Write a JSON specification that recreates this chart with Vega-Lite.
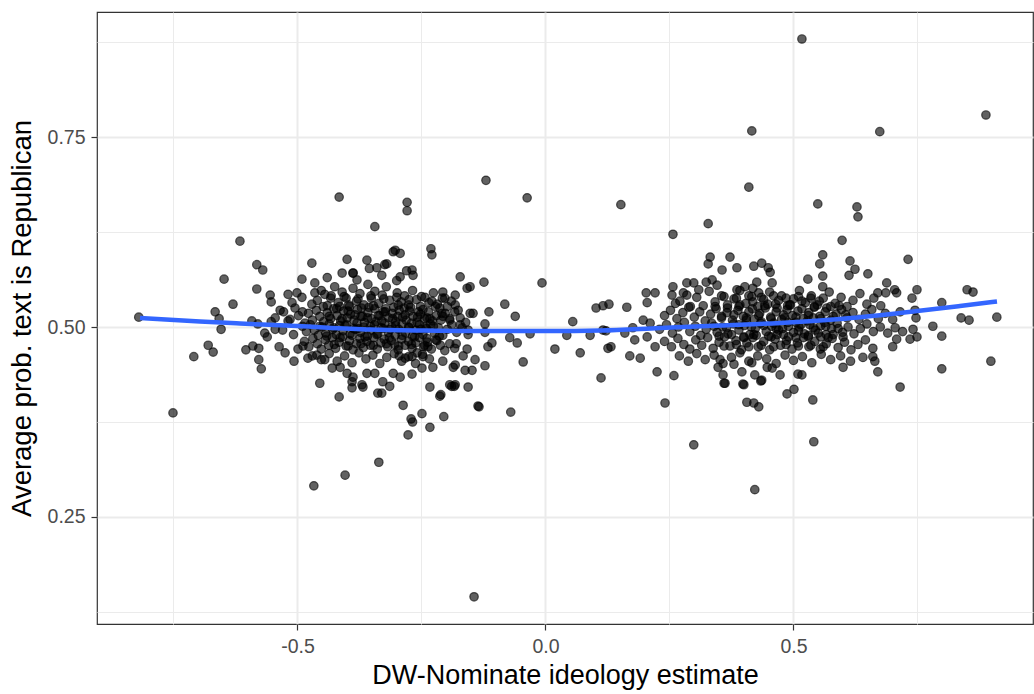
{
"$schema": "https://vega.github.io/schema/vega-lite/v6.json",
"width": 936,
"height": 612,
"autosize": {"type": "none"},
"padding": {"left": 97, "top": 12, "right": 1, "bottom": 70},
"background": "white",
"config": {"view": {"stroke": "#333333", "strokeWidth": 1.2}, "font": "Liberation Sans"},
"datasets": {
"fit": [
{"x":-0.8175,"y":0.5118},{"x":-0.6966,"y":0.5072},{"x":-0.6159,"y":0.5046},{"x":-0.501,"y":0.5013},{"x":-0.3538,"y":0.4967},{"x":-0.253,"y":0.4954},{"x":-0.1522,"y":0.4947},{"x":0.0091,"y":0.4947},{"x":0.1099,"y":0.4954},{"x":0.2308,"y":0.4987},{"x":0.3518,"y":0.502},{"x":0.4728,"y":0.5053},{"x":0.5938,"y":0.5105},{"x":0.7147,"y":0.5184},{"x":0.8357,"y":0.5276},{"x":0.9103,"y":0.5336}
],
"pts": [
{"x":-0.82,"y":0.513},{"x":-0.648,"y":0.563},{"x":-0.616,"y":0.613},{"x":-0.63,"y":0.53},{"x":-0.666,"y":0.52},{"x":-0.658,"y":0.511},{"x":-0.654,"y":0.497},{"x":-0.68,"y":0.476},{"x":-0.67,"y":0.467},{"x":-0.709,"y":0.461},{"x":-0.751,"y":0.387},
{"x":-0.582,"y":0.582},{"x":-0.57,"y":0.575},{"x":-0.471,"y":0.584},{"x":-0.4,"y":0.589},{"x":-0.388,"y":0.571},{"x":-0.491,"y":0.563},{"x":-0.582,"y":0.55},{"x":-0.555,"y":0.542},{"x":-0.592,"y":0.508},{"x":-0.58,"y":0.504},{"x":-0.553,"y":0.533},{"x":-0.553,"y":0.507},{"x":-0.535,"y":0.522},{"x":-0.519,"y":0.508},{"x":-0.519,"y":0.543},{"x":-0.501,"y":0.545},{"x":-0.511,"y":0.532},{"x":-0.465,"y":0.558},{"x":-0.465,"y":0.545},{"x":-0.445,"y":0.543},{"x":-0.491,"y":0.539},{"x":-0.471,"y":0.53},{"x":-0.561,"y":0.487},{"x":-0.566,"y":0.492},{"x":-0.604,"y":0.47},{"x":-0.59,"y":0.475},{"x":-0.578,"y":0.472},{"x":-0.537,"y":0.474},{"x":-0.525,"y":0.466},{"x":-0.578,"y":0.457},{"x":-0.573,"y":0.445},{"x":-0.507,"y":0.455},{"x":-0.499,"y":0.471},{"x":-0.489,"y":0.475},{"x":-0.479,"y":0.459},{"x":-0.461,"y":0.463},{"x":-0.445,"y":0.457},
{"x":-0.455,"y":0.426},{"x":-0.43,"y":0.446},{"x":-0.414,"y":0.447},{"x":-0.4,"y":0.439},{"x":-0.416,"y":0.408},{"x":-0.388,"y":0.434},{"x":-0.39,"y":0.428},{"x":-0.36,"y":0.439},{"x":-0.37,"y":0.424},{"x":-0.368,"y":0.421},{"x":-0.338,"y":0.413},{"x":-0.39,"y":0.42},{"x":-0.211,"y":0.411},{"x":-0.189,"y":0.422},{"x":-0.184,"y":0.422},{"x":-0.134,"y":0.395},{"x":-0.07,"y":0.388},{"x":-0.271,"y":0.379},{"x":-0.268,"y":0.375},{"x":-0.249,"y":0.386},{"x":-0.205,"y":0.382},{"x":-0.233,"y":0.368},{"x":-0.277,"y":0.358},{"x":-0.336,"y":0.322},{"x":-0.404,"y":0.305},{"x":-0.467,"y":0.291},{"x":-0.144,"y":0.145},
{"x":-0.229,"y":0.595},{"x":-0.172,"y":0.566},{"x":-0.124,"y":0.559},{"x":-0.158,"y":0.551},{"x":-0.152,"y":0.553},{"x":-0.207,"y":0.546},{"x":-0.182,"y":0.542},{"x":-0.229,"y":0.534},{"x":-0.203,"y":0.538},{"x":-0.082,"y":0.53},{"x":-0.061,"y":0.514},{"x":-0.114,"y":0.52},{"x":-0.152,"y":0.518},{"x":-0.146,"y":0.518},{"x":-0.182,"y":0.529},{"x":-0.176,"y":0.522},{"x":-0.213,"y":0.525},{"x":-0.209,"y":0.518},{"x":-0.193,"y":0.509},{"x":-0.122,"y":0.504},{"x":-0.122,"y":0.493},{"x":-0.239,"y":0.512},{"x":-0.243,"y":0.5},{"x":-0.172,"y":0.503},{"x":-0.156,"y":0.496},{"x":-0.031,"y":0.491},{"x":-0.072,"y":0.486},{"x":-0.057,"y":0.479},{"x":-0.108,"y":0.479},{"x":-0.116,"y":0.474},{"x":-0.18,"y":0.478},{"x":-0.219,"y":0.482},{"x":-0.158,"y":0.471},{"x":-0.166,"y":0.462},{"x":-0.237,"y":0.474},{"x":-0.247,"y":0.461},{"x":-0.295,"y":0.462},{"x":-0.283,"y":0.459},{"x":-0.259,"y":0.466},{"x":-0.269,"y":0.461},{"x":-0.142,"y":0.457},{"x":-0.122,"y":0.449},{"x":-0.045,"y":0.454},{"x":-0.207,"y":0.455},{"x":-0.182,"y":0.45},{"x":-0.186,"y":0.447},{"x":-0.162,"y":0.443},{"x":-0.148,"y":0.443},{"x":-0.227,"y":0.447},{"x":-0.249,"y":0.446},{"x":-0.269,"y":0.438},{"x":-0.344,"y":0.439},{"x":-0.307,"y":0.439},{"x":-0.293,"y":0.434},{"x":-0.328,"y":0.428},{"x":-0.33,"y":0.413},{"x":-0.314,"y":0.422},{"x":-0.233,"y":0.421},{"x":-0.193,"y":0.424},{"x":-0.182,"y":0.424},{"x":-0.156,"y":0.421},{"x":-0.213,"y":0.409},{"x":-0.287,"y":0.397},{"x":-0.136,"y":0.396},{"x":-0.307,"y":0.599},{"x":-0.293,"y":0.597},{"x":-0.34,"y":0.578},{"x":-0.324,"y":0.582},{"x":-0.269,"y":0.575},{"x":-0.267,"y":0.568},{"x":-0.293,"y":0.566},
{"x":-0.12,"y":0.693},{"x":-0.416,"y":0.671},{"x":-0.279,"y":0.664},{"x":-0.279,"y":0.653},{"x":-0.344,"y":0.632},{"x":-0.303,"y":0.601},{"x":-0.231,"y":0.603},{"x":-0.037,"y":0.67},{"x":-0.007,"y":0.558},{"x":-0.32,"y":0.583},{"x":-0.388,"y":0.571},
{"x":-0.545,"y":0.512},{"x":-0.528,"y":0.52},{"x":-0.515,"y":0.51},{"x":-0.505,"y":0.525},{"x":-0.498,"y":0.515},{"x":-0.508,"y":0.49},{"x":-0.53,"y":0.496},{"x":-0.545,"y":0.497},{"x":-0.49,"y":0.52},{"x":-0.485,"y":0.505},
{"x":-0.46,"y":0.535},{"x":-0.452,"y":0.548},{"x":-0.44,"y":0.528},{"x":-0.432,"y":0.541},{"x":-0.425,"y":0.553},{"x":-0.418,"y":0.532},{"x":-0.41,"y":0.546},{"x":-0.402,"y":0.538},{"x":-0.395,"y":0.527},{"x":-0.388,"y":0.551},{"x":-0.381,"y":0.534},{"x":-0.374,"y":0.544},{"x":-0.366,"y":0.529},{"x":-0.358,"y":0.556},{"x":-0.351,"y":0.538},{"x":-0.344,"y":0.547},{"x":-0.336,"y":0.531},{"x":-0.329,"y":0.542},{"x":-0.321,"y":0.553},{"x":-0.314,"y":0.535},{"x":-0.306,"y":0.526},{"x":-0.299,"y":0.545},{"x":-0.291,"y":0.533},{"x":-0.284,"y":0.541},{"x":-0.276,"y":0.529},{"x":-0.268,"y":0.548},{"x":-0.26,"y":0.536},{"x":-0.252,"y":0.527},{"x":-0.243,"y":0.539},{"x":-0.235,"y":0.532},{"x":-0.226,"y":0.545},{"x":-0.218,"y":0.53},{"x":-0.208,"y":0.538},{"x":-0.198,"y":0.527},{"x":-0.19,"y":0.534},
{"x":-0.478,"y":0.518},{"x":-0.47,"y":0.509},{"x":-0.462,"y":0.522},{"x":-0.455,"y":0.514},{"x":-0.447,"y":0.507},{"x":-0.44,"y":0.519},{"x":-0.433,"y":0.511},{"x":-0.427,"y":0.524},{"x":-0.42,"y":0.515},{"x":-0.413,"y":0.508},{"x":-0.407,"y":0.521},{"x":-0.4,"y":0.512},{"x":-0.393,"y":0.517},{"x":-0.386,"y":0.509},{"x":-0.379,"y":0.523},{"x":-0.372,"y":0.514},{"x":-0.365,"y":0.506},{"x":-0.358,"y":0.519},{"x":-0.351,"y":0.511},{"x":-0.344,"y":0.524},{"x":-0.337,"y":0.515},{"x":-0.33,"y":0.508},{"x":-0.323,"y":0.52},{"x":-0.316,"y":0.512},{"x":-0.309,"y":0.518},{"x":-0.302,"y":0.507},{"x":-0.295,"y":0.522},{"x":-0.288,"y":0.513},{"x":-0.281,"y":0.509},{"x":-0.274,"y":0.521},{"x":-0.267,"y":0.514},{"x":-0.259,"y":0.506},{"x":-0.252,"y":0.517},{"x":-0.244,"y":0.511},{"x":-0.236,"y":0.52},{"x":-0.228,"y":0.508},{"x":-0.22,"y":0.515},{"x":-0.211,"y":0.509},{"x":-0.202,"y":0.518},{"x":-0.193,"y":0.511},{"x":-0.183,"y":0.52},{"x":-0.172,"y":0.512},{"x":-0.161,"y":0.506},
{"x":-0.49,"y":0.501},{"x":-0.482,"y":0.494},{"x":-0.474,"y":0.503},{"x":-0.466,"y":0.496},{"x":-0.458,"y":0.489},{"x":-0.45,"y":0.5},{"x":-0.443,"y":0.492},{"x":-0.436,"y":0.504},{"x":-0.429,"y":0.497},{"x":-0.422,"y":0.49},{"x":-0.415,"y":0.502},{"x":-0.408,"y":0.495},{"x":-0.401,"y":0.503},{"x":-0.394,"y":0.491},{"x":-0.387,"y":0.498},{"x":-0.38,"y":0.505},{"x":-0.373,"y":0.493},{"x":-0.366,"y":0.5},{"x":-0.359,"y":0.488},{"x":-0.352,"y":0.496},{"x":-0.345,"y":0.503},{"x":-0.338,"y":0.491},{"x":-0.331,"y":0.499},{"x":-0.324,"y":0.505},{"x":-0.317,"y":0.493},{"x":-0.31,"y":0.5},{"x":-0.303,"y":0.489},{"x":-0.296,"y":0.497},{"x":-0.289,"y":0.504},{"x":-0.282,"y":0.492},{"x":-0.275,"y":0.499},{"x":-0.268,"y":0.488},{"x":-0.261,"y":0.496},{"x":-0.254,"y":0.503},{"x":-0.247,"y":0.49},{"x":-0.24,"y":0.498},{"x":-0.232,"y":0.504},{"x":-0.224,"y":0.492},{"x":-0.216,"y":0.499},{"x":-0.207,"y":0.489},{"x":-0.198,"y":0.497},{"x":-0.189,"y":0.503},{"x":-0.179,"y":0.493},{"x":-0.168,"y":0.499},{"x":-0.156,"y":0.49},
{"x":-0.486,"y":0.481},{"x":-0.477,"y":0.474},{"x":-0.469,"y":0.485},{"x":-0.46,"y":0.478},{"x":-0.452,"y":0.471},{"x":-0.444,"y":0.483},{"x":-0.437,"y":0.476},{"x":-0.43,"y":0.486},{"x":-0.423,"y":0.472},{"x":-0.416,"y":0.48},{"x":-0.409,"y":0.487},{"x":-0.402,"y":0.475},{"x":-0.395,"y":0.482},{"x":-0.388,"y":0.47},{"x":-0.381,"y":0.478},{"x":-0.374,"y":0.485},{"x":-0.367,"y":0.473},{"x":-0.36,"y":0.481},{"x":-0.353,"y":0.476},{"x":-0.346,"y":0.486},{"x":-0.339,"y":0.471},{"x":-0.332,"y":0.479},{"x":-0.325,"y":0.484},{"x":-0.318,"y":0.474},{"x":-0.311,"y":0.482},{"x":-0.304,"y":0.477},{"x":-0.297,"y":0.47},{"x":-0.29,"y":0.484},{"x":-0.283,"y":0.476},{"x":-0.276,"y":0.481},{"x":-0.269,"y":0.472},{"x":-0.262,"y":0.479},{"x":-0.254,"y":0.486},{"x":-0.246,"y":0.474},{"x":-0.238,"y":0.48},{"x":-0.23,"y":0.471},{"x":-0.221,"y":0.483},{"x":-0.212,"y":0.476},{"x":-0.203,"y":0.469},{"x":-0.193,"y":0.478},{"x":-0.183,"y":0.472},
{"x":-0.47,"y":0.462},{"x":-0.452,"y":0.457},{"x":-0.436,"y":0.465},{"x":-0.42,"y":0.455},{"x":-0.405,"y":0.462},{"x":-0.39,"y":0.453},{"x":-0.376,"y":0.466},{"x":-0.362,"y":0.458},{"x":-0.348,"y":0.463},{"x":-0.334,"y":0.452},{"x":-0.32,"y":0.46},{"x":-0.305,"y":0.465},{"x":-0.29,"y":0.455},{"x":-0.276,"y":0.461},{"x":-0.262,"y":0.452},{"x":-0.248,"y":0.464},{"x":-0.234,"y":0.458},
{"x":-0.44,"y":0.565},{"x":-0.41,"y":0.571},{"x":-0.38,"y":0.562},{"x":-0.355,"y":0.577},{"x":-0.33,"y":0.568},{"x":-0.3,"y":0.561},{"x":-0.28,"y":0.574},{"x":-0.36,"y":0.588},
{"x":-0.415,"y":0.527},{"x":-0.398,"y":0.521},{"x":-0.383,"y":0.497},{"x":-0.369,"y":0.514},{"x":-0.356,"y":0.526},{"x":-0.342,"y":0.507},{"x":-0.327,"y":0.52},{"x":-0.313,"y":0.497},{"x":-0.298,"y":0.514},{"x":-0.285,"y":0.525},{"x":-0.27,"y":0.505},{"x":-0.256,"y":0.52},
{"x":-0.448,"y":0.527},{"x":-0.421,"y":0.524},{"x":-0.397,"y":0.529},{"x":-0.371,"y":0.525},{"x":-0.347,"y":0.528},{"x":-0.322,"y":0.524},{"x":-0.297,"y":0.529},{"x":-0.272,"y":0.526},{"x":-0.247,"y":0.523},{"x":-0.222,"y":0.527},
{"x":-0.436,"y":0.514},{"x":-0.41,"y":0.511},{"x":-0.384,"y":0.516},{"x":-0.359,"y":0.512},{"x":-0.334,"y":0.515},{"x":-0.308,"y":0.511},{"x":-0.283,"y":0.516},{"x":-0.258,"y":0.513},{"x":-0.233,"y":0.511},{"x":-0.207,"y":0.514},
{"x":-0.455,"y":0.501},{"x":-0.427,"y":0.499},{"x":-0.404,"y":0.502},{"x":-0.378,"y":0.498},{"x":-0.353,"y":0.501},{"x":-0.327,"y":0.498},{"x":-0.302,"y":0.502},{"x":-0.276,"y":0.5},{"x":-0.251,"y":0.497},{"x":-0.226,"y":0.501},
{"x":-0.441,"y":0.488},{"x":-0.414,"y":0.486},{"x":-0.39,"y":0.489},{"x":-0.364,"y":0.487},{"x":-0.34,"y":0.49},{"x":-0.315,"y":0.486},{"x":-0.289,"y":0.489},{"x":-0.264,"y":0.487},{"x":-0.239,"y":0.485},{"x":-0.214,"y":0.488},
{"x":-0.426,"y":0.477},{"x":-0.398,"y":0.475},{"x":-0.372,"y":0.478},{"x":-0.347,"y":0.476},{"x":-0.321,"y":0.478},{"x":-0.296,"y":0.475},{"x":-0.27,"y":0.477},{"x":-0.244,"y":0.476},
{"x":-0.433,"y":0.538},{"x":-0.406,"y":0.54},{"x":-0.378,"y":0.537},{"x":-0.352,"y":0.541},{"x":-0.326,"y":0.537},{"x":-0.3,"y":0.539},{"x":-0.275,"y":0.536},{"x":-0.25,"y":0.54},
{"x":0.019,"y":0.471},{"x":0.043,"y":0.489},{"x":0.055,"y":0.507},{"x":0.07,"y":0.466},{"x":0.09,"y":0.489},{"x":0.102,"y":0.525},{"x":0.116,"y":0.528},{"x":0.128,"y":0.53},{"x":0.164,"y":0.526},{"x":0.116,"y":0.496},{"x":0.122,"y":0.495},{"x":0.126,"y":0.472},{"x":0.132,"y":0.474},{"x":0.16,"y":0.492},{"x":0.112,"y":0.433},{"x":0.17,"y":0.462},{"x":0.191,"y":0.459},{"x":0.176,"y":0.499},{"x":0.18,"y":0.483},{"x":0.203,"y":0.545},{"x":0.221,"y":0.545},{"x":0.205,"y":0.532},{"x":0.197,"y":0.509},{"x":0.211,"y":0.505},{"x":0.205,"y":0.487},{"x":0.221,"y":0.474},{"x":0.225,"y":0.441},{"x":0.259,"y":0.436},{"x":0.241,"y":0.4},{"x":0.152,"y":0.661},{"x":0.257,"y":0.622},{"x":0.299,"y":0.345},{"x":0.328,"y":0.636},{"x":0.41,"y":0.684},{"x":0.416,"y":0.758},{"x":0.517,"y":0.879},{"x":0.674,"y":0.757},{"x":0.888,"y":0.779},{"x":0.422,"y":0.286},{"x":0.541,"y":0.349},{"x":0.549,"y":0.662},{"x":0.628,"y":0.658},{"x":0.63,"y":0.645},{"x":0.598,"y":0.614},{"x":0.898,"y":0.455},{"x":0.91,"y":0.513},{"x":0.799,"y":0.445},{"x":0.715,"y":0.421},{"x":0.539,"y":0.404},{"x":0.406,"y":0.401},{"x":0.42,"y":0.4},{"x":0.43,"y":0.395},{"x":0.487,"y":0.412},{"x":0.501,"y":0.418},{"x":0.36,"y":0.426},{"x":0.4,"y":0.424},{"x":0.434,"y":0.429},{"x":0.6,"y":0.447},{"x":0.67,"y":0.441},{"x":0.664,"y":0.455},{"x":0.66,"y":0.461},{"x":0.473,"y":0.437},{"x":0.517,"y":0.437},{"x":0.509,"y":0.438},
{"x":0.332,"y":0.592},{"x":0.372,"y":0.592},{"x":0.328,"y":0.583},{"x":0.356,"y":0.575},{"x":0.386,"y":0.578},{"x":0.42,"y":0.58},{"x":0.436,"y":0.584},{"x":0.449,"y":0.578},{"x":0.453,"y":0.572},{"x":0.559,"y":0.595},{"x":0.553,"y":0.583},{"x":0.614,"y":0.587},{"x":0.624,"y":0.576},{"x":0.612,"y":0.568},{"x":0.65,"y":0.57},{"x":0.731,"y":0.589},{"x":0.529,"y":0.563},{"x":0.559,"y":0.567},{"x":0.559,"y":0.553},{"x":0.688,"y":0.558},{"x":0.67,"y":0.545},{"x":0.686,"y":0.545},{"x":0.704,"y":0.549},{"x":0.708,"y":0.545},{"x":0.749,"y":0.549},{"x":0.739,"y":0.538},{"x":0.799,"y":0.532},{"x":0.85,"y":0.549},{"x":0.862,"y":0.546},{"x":0.838,"y":0.512},{"x":0.854,"y":0.509},{"x":0.781,"y":0.501},{"x":0.799,"y":0.488},{"x":0.747,"y":0.512},{"x":0.745,"y":0.522},{"x":0.741,"y":0.497},{"x":0.749,"y":0.487},{"x":0.735,"y":0.484},{"x":0.708,"y":0.484},{"x":0.7,"y":0.474},
{"x":0.257,"y":0.553},{"x":0.285,"y":0.558},{"x":0.299,"y":0.558},{"x":0.324,"y":0.559},{"x":0.336,"y":0.562},{"x":0.346,"y":0.555},{"x":0.255,"y":0.542},{"x":0.271,"y":0.534},{"x":0.285,"y":0.542},{"x":0.309,"y":0.549},{"x":0.386,"y":0.549},{"x":0.402,"y":0.553},{"x":0.418,"y":0.551},{"x":0.426,"y":0.559},{"x":0.43,"y":0.545},{"x":0.457,"y":0.558},
{"x":0.352,"y":0.457},{"x":0.348,"y":0.447},{"x":0.358,"y":0.437},{"x":0.362,"y":0.426},{"x":0.38,"y":0.451},{"x":0.396,"y":0.441},{"x":0.398,"y":0.425},{"x":0.422,"y":0.437},{"x":0.436,"y":0.43},{"x":0.416,"y":0.453},{"x":0.447,"y":0.447},{"x":0.457,"y":0.446},
{"x":0.262,"y":0.531},{"x":0.278,"y":0.545},{"x":0.292,"y":0.527},{"x":0.305,"y":0.539},{"x":0.318,"y":0.528},{"x":0.33,"y":0.547},{"x":0.342,"y":0.533},{"x":0.355,"y":0.541},{"x":0.367,"y":0.529},{"x":0.38,"y":0.537},{"x":0.392,"y":0.548},{"x":0.404,"y":0.531},{"x":0.416,"y":0.54},{"x":0.428,"y":0.527},{"x":0.44,"y":0.536},{"x":0.452,"y":0.546},{"x":0.464,"y":0.53},{"x":0.476,"y":0.541},{"x":0.488,"y":0.528},{"x":0.5,"y":0.537},{"x":0.512,"y":0.548},{"x":0.524,"y":0.532},{"x":0.536,"y":0.541},{"x":0.548,"y":0.529},{"x":0.56,"y":0.538},{"x":0.572,"y":0.546},{"x":0.584,"y":0.531},{"x":0.596,"y":0.539},{"x":0.608,"y":0.527},{"x":0.62,"y":0.535},{"x":0.634,"y":0.544},{"x":0.648,"y":0.53},{"x":0.662,"y":0.538},{"x":0.676,"y":0.528},
{"x":0.24,"y":0.515},{"x":0.252,"y":0.522},{"x":0.265,"y":0.511},{"x":0.277,"y":0.519},{"x":0.289,"y":0.526},{"x":0.3,"y":0.513},{"x":0.311,"y":0.52},{"x":0.322,"y":0.508},{"x":0.333,"y":0.517},{"x":0.344,"y":0.524},{"x":0.355,"y":0.512},{"x":0.366,"y":0.519},{"x":0.377,"y":0.509},{"x":0.388,"y":0.522},{"x":0.399,"y":0.514},{"x":0.41,"y":0.52},{"x":0.421,"y":0.51},{"x":0.432,"y":0.518},{"x":0.443,"y":0.525},{"x":0.454,"y":0.513},{"x":0.465,"y":0.52},{"x":0.476,"y":0.51},{"x":0.487,"y":0.523},{"x":0.498,"y":0.515},{"x":0.509,"y":0.521},{"x":0.52,"y":0.511},{"x":0.531,"y":0.519},{"x":0.542,"y":0.526},{"x":0.553,"y":0.514},{"x":0.564,"y":0.52},{"x":0.575,"y":0.509},{"x":0.586,"y":0.517},{"x":0.597,"y":0.523},{"x":0.608,"y":0.512},{"x":0.62,"y":0.519},{"x":0.632,"y":0.51},{"x":0.645,"y":0.517},{"x":0.658,"y":0.523},{"x":0.671,"y":0.511},{"x":0.685,"y":0.518},{"x":0.7,"y":0.51},{"x":0.715,"y":0.52},
{"x":0.23,"y":0.497},{"x":0.244,"y":0.503},{"x":0.256,"y":0.492},{"x":0.268,"y":0.5},{"x":0.28,"y":0.506},{"x":0.291,"y":0.494},{"x":0.302,"y":0.501},{"x":0.313,"y":0.489},{"x":0.324,"y":0.497},{"x":0.335,"y":0.505},{"x":0.346,"y":0.493},{"x":0.357,"y":0.5},{"x":0.368,"y":0.491},{"x":0.379,"y":0.504},{"x":0.39,"y":0.496},{"x":0.401,"y":0.502},{"x":0.412,"y":0.49},{"x":0.423,"y":0.498},{"x":0.434,"y":0.505},{"x":0.445,"y":0.494},{"x":0.456,"y":0.501},{"x":0.467,"y":0.49},{"x":0.478,"y":0.498},{"x":0.489,"y":0.506},{"x":0.5,"y":0.493},{"x":0.511,"y":0.5},{"x":0.522,"y":0.491},{"x":0.533,"y":0.503},{"x":0.544,"y":0.496},{"x":0.555,"y":0.502},{"x":0.566,"y":0.49},{"x":0.577,"y":0.498},{"x":0.588,"y":0.505},{"x":0.599,"y":0.493},{"x":0.61,"y":0.5},{"x":0.622,"y":0.491},{"x":0.635,"y":0.498},{"x":0.648,"y":0.504},{"x":0.661,"y":0.494},{"x":0.675,"y":0.5},{"x":0.69,"y":0.492},{"x":0.705,"y":0.499},{"x":0.72,"y":0.494},
{"x":0.24,"y":0.481},{"x":0.254,"y":0.474},{"x":0.267,"y":0.485},{"x":0.279,"y":0.477},{"x":0.291,"y":0.471},{"x":0.303,"y":0.483},{"x":0.315,"y":0.476},{"x":0.327,"y":0.486},{"x":0.338,"y":0.472},{"x":0.35,"y":0.48},{"x":0.361,"y":0.487},{"x":0.372,"y":0.475},{"x":0.384,"y":0.482},{"x":0.395,"y":0.47},{"x":0.406,"y":0.479},{"x":0.418,"y":0.486},{"x":0.429,"y":0.474},{"x":0.44,"y":0.481},{"x":0.452,"y":0.47},{"x":0.463,"y":0.484},{"x":0.474,"y":0.476},{"x":0.486,"y":0.482},{"x":0.497,"y":0.471},{"x":0.508,"y":0.479},{"x":0.52,"y":0.486},{"x":0.531,"y":0.474},{"x":0.543,"y":0.481},{"x":0.554,"y":0.471},{"x":0.566,"y":0.478},{"x":0.578,"y":0.485},{"x":0.59,"y":0.473},{"x":0.603,"y":0.48},{"x":0.616,"y":0.47},{"x":0.63,"y":0.477},{"x":0.645,"y":0.483},{"x":0.66,"y":0.472},
{"x":0.27,"y":0.462},{"x":0.288,"y":0.455},{"x":0.305,"y":0.465},{"x":0.322,"y":0.457},{"x":0.34,"y":0.463},{"x":0.358,"y":0.452},{"x":0.375,"y":0.46},{"x":0.392,"y":0.466},{"x":0.41,"y":0.455},{"x":0.428,"y":0.462},{"x":0.446,"y":0.458},{"x":0.465,"y":0.452},{"x":0.483,"y":0.463},{"x":0.5,"y":0.456},{"x":0.518,"y":0.461},{"x":0.537,"y":0.453},{"x":0.556,"y":0.464},{"x":0.575,"y":0.457},{"x":0.595,"y":0.462},{"x":0.615,"y":0.455},{"x":0.64,"y":0.46},
{"x":0.39,"y":0.527},{"x":0.405,"y":0.509},{"x":0.418,"y":0.533},{"x":0.435,"y":0.507},{"x":0.448,"y":0.53},{"x":0.46,"y":0.505},{"x":0.47,"y":0.535},{"x":0.482,"y":0.512},{"x":0.494,"y":0.529},{"x":0.505,"y":0.506},{"x":0.517,"y":0.534},{"x":0.528,"y":0.508},{"x":0.54,"y":0.512},{"x":0.552,"y":0.534},{"x":0.563,"y":0.506},{"x":0.575,"y":0.527},{"x":0.45,"y":0.488},{"x":0.47,"y":0.496},{"x":0.49,"y":0.487},{"x":0.51,"y":0.495},{"x":0.53,"y":0.487},{"x":0.55,"y":0.492},{"x":0.57,"y":0.486},{"x":0.6,"y":0.487},{"x":0.42,"y":0.49},{"x":0.4,"y":0.487},
{"x":0.342,"y":0.527},{"x":0.367,"y":0.525},{"x":0.392,"y":0.529},{"x":0.417,"y":0.524},{"x":0.442,"y":0.528},{"x":0.467,"y":0.525},{"x":0.492,"y":0.529},{"x":0.517,"y":0.524},{"x":0.542,"y":0.527},{"x":0.567,"y":0.525},{"x":0.592,"y":0.528},
{"x":0.355,"y":0.514},{"x":0.38,"y":0.516},{"x":0.405,"y":0.512},{"x":0.43,"y":0.515},{"x":0.455,"y":0.511},{"x":0.48,"y":0.516},{"x":0.505,"y":0.513},{"x":0.53,"y":0.515},{"x":0.555,"y":0.511},{"x":0.58,"y":0.514},{"x":0.605,"y":0.516},
{"x":0.34,"y":0.501},{"x":0.365,"y":0.499},{"x":0.39,"y":0.503},{"x":0.415,"y":0.5},{"x":0.44,"y":0.502},{"x":0.465,"y":0.498},{"x":0.49,"y":0.501},{"x":0.515,"y":0.503},{"x":0.54,"y":0.499},{"x":0.565,"y":0.501},{"x":0.59,"y":0.498},
{"x":0.35,"y":0.488},{"x":0.375,"y":0.49},{"x":0.4,"y":0.486},{"x":0.425,"y":0.489},{"x":0.455,"y":0.487},{"x":0.48,"y":0.49},{"x":0.505,"y":0.486},{"x":0.53,"y":0.489},{"x":0.555,"y":0.487},{"x":0.58,"y":0.49},
{"x":0.36,"y":0.475},{"x":0.385,"y":0.477},{"x":0.41,"y":0.474},{"x":0.435,"y":0.476},{"x":0.46,"y":0.474},{"x":0.485,"y":0.477},{"x":0.51,"y":0.475},{"x":0.535,"y":0.476},{"x":0.56,"y":0.474},
{"x":0.36,"y":0.54},{"x":0.385,"y":0.538},{"x":0.41,"y":0.541},{"x":0.435,"y":0.539},{"x":0.46,"y":0.541},{"x":0.485,"y":0.538},{"x":0.51,"y":0.54},{"x":0.535,"y":0.538}
]
},
"encoding": {
"x": {"field": "x", "type": "quantitative",
 "scale": {"domain": [-0.9042, 0.9829], "nice": false, "zero": false},
 "axis": {"title": "DW-Nominate ideology estimate",
  "values": [-0.75, -0.5, -0.25, 0, 0.25, 0.5, 0.75],
  "labelExpr": "datum.value == -0.5 ? '-0.5' : datum.value == 0 ? '0.0' : datum.value == 0.5 ? '0.5' : ''",
  "domain": false,
  "gridColor": "#EBEBEB",
  "gridWidth": {"condition": {"test": "datum.value == -0.5 || datum.value == 0 || datum.value == 0.5", "value": 2}, "value": 1},
  "tickColor": "#333333",
  "tickOpacity": {"condition": {"test": "datum.value == -0.5 || datum.value == 0 || datum.value == 0.5", "value": 1}, "value": 0},
  "tickSize": 6, "tickWidth": 1.2,
  "labelColor": "#4D4D4D", "labelFont": "Liberation Sans", "labelFontSize": 19.5, "labelPadding": 7,
  "labelOverlap": false, "labelFlush": false,
  "titleFont": "Liberation Sans", "titleFontSize": 27, "titleFontWeight": "normal", "titleColor": "#000000",
  "titleBaseline": "alphabetic", "titleY": 59}},
"y": {"field": "y", "type": "quantitative",
 "scale": {"domain": [0.1092, 0.9145], "nice": false, "zero": false},
 "axis": {"title": "Average prob. text is Republican",
  "values": [0.125, 0.25, 0.375, 0.5, 0.625, 0.75, 0.875],
  "labelExpr": "datum.value == 0.25 ? '0.25' : datum.value == 0.5 ? '0.50' : datum.value == 0.75 ? '0.75' : ''",
  "domain": false,
  "gridColor": "#EBEBEB",
  "gridWidth": {"condition": {"test": "datum.value == 0.25 || datum.value == 0.5 || datum.value == 0.75", "value": 2}, "value": 1},
  "tickColor": "#333333",
  "tickOpacity": {"condition": {"test": "datum.value == 0.25 || datum.value == 0.5 || datum.value == 0.75", "value": 1}, "value": 0},
  "tickSize": 6, "tickWidth": 1.2,
  "labelColor": "#4D4D4D", "labelFont": "Liberation Sans", "labelFontSize": 19.5, "labelPadding": 6,
  "labelOverlap": false, "labelFlush": false,
  "titleFont": "Liberation Sans", "titleFontSize": 27.5, "titleFontWeight": "normal", "titleColor": "#000000",
  "titleBaseline": "alphabetic", "titleX": -67}}
},
"layer": [
{"data": {"name": "pts"}, "mark": {"type": "circle", "size": 72, "fill": "#000000", "fillOpacity": 0.62, "stroke": "#000000", "strokeOpacity": 0.62, "strokeWidth": 1.2}},
{"data": {"name": "fit"}, "mark": {"type": "line", "color": "#3366FF", "strokeWidth": 4.5, "interpolate": "monotone"}}
]
}
